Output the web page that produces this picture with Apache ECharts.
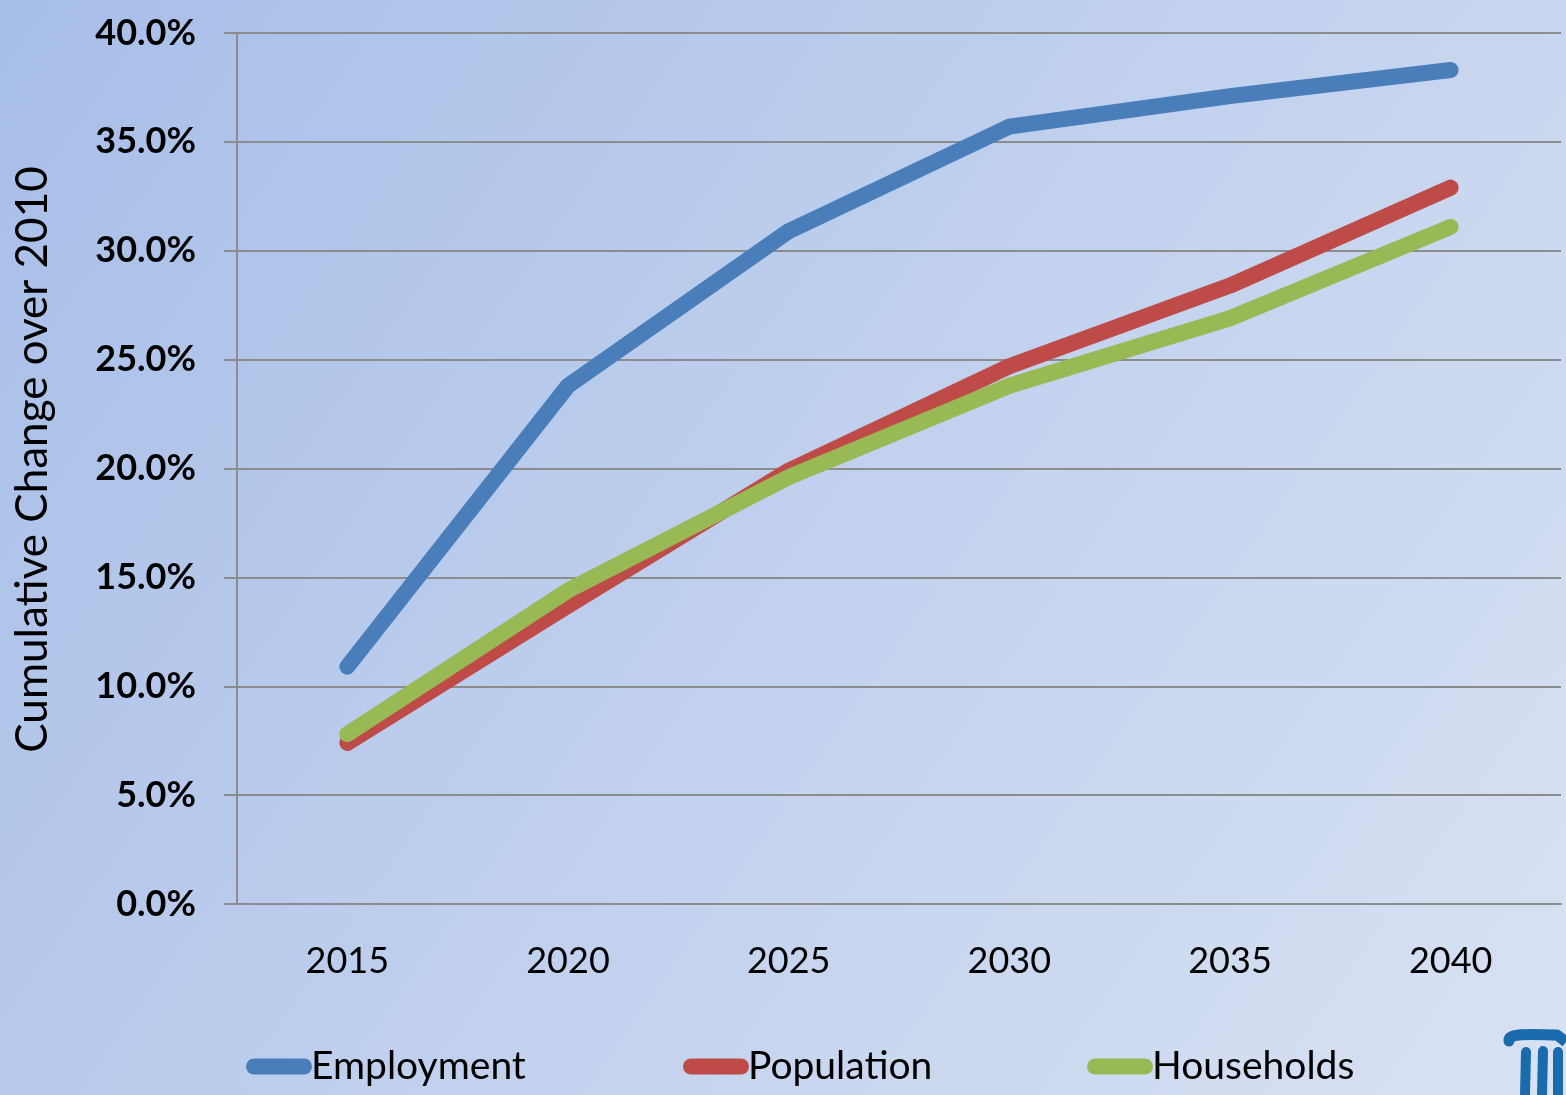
<!DOCTYPE html>
<html><head><meta charset="utf-8">
<script src="https://cdn.jsdelivr.net/npm/echarts@6/dist/echarts.min.js"></script>
<style>html,body{margin:0;padding:0}#c{width:1566px;height:1095px}</style>
</head><body><div id="c"></div>
<script>
const categories = ['2015','2020','2025','2030','2035','2040'];
const employment = [10.9, 23.8, 30.9, 35.7, 37.1, 38.3];
const population = [7.4, 13.7, 19.9, 24.7, 28.4, 32.9];
const households = [7.8, 14.4, 19.6, 23.8, 26.9, 31.1];
const yTicks = [0, 5, 10, 15, 20, 25, 30, 35, 40];

const FONT = 'Lato';
const colors = ['#4a7ebb', '#be4b48', '#98b954'];
const capsule = 'path://M8,0 L58,0 A8,8 0 0 1 58,16 L8,16 A8,8 0 0 1 8,0 Z';

const chart = echarts.init(document.getElementById('c'));
function legendFor(name, left) {
  return {
    data: [name], left: left, top: 1047, padding: 0, icon: capsule,
    itemWidth: 66, itemHeight: 16, itemGap: 0,
    textStyle: {fontFamily: FONT, fontSize: 39, color: '#000', padding: [0,0,0,-6]}
  };
}
chart.setOption({
  animation: false,
  backgroundColor: {type: 'linear', x: 0, y: 0, x2: 1, y2: 1,
    colorStops: [{offset: 0, color: '#a7bee8'}, {offset: 1, color: '#d9e2f3'}]},
  color: colors,
  grid: {left: 237, right: 5, top: 33, bottom: 191, containLabel: false},
  legend: [legendFor('Employment', 246), legendFor('Population', 683), legendFor('Households', 1087)],
  xAxis: {
    type: 'category', data: categories, boundaryGap: true,
    axisLine: {lineStyle: {color: '#8c8c8c', width: 2}},
    axisTick: {length: 12, lineStyle: {color: '#8c8c8c', width: 2}},
    axisLabel: {margin: 39, fontFamily: FONT, fontSize: 36, color: '#000'}
  },
  yAxis: {
    type: 'value', min: yTicks[0], max: yTicks[yTicks.length-1], interval: 5,
    name: 'Cumulative Change over 2010', nameLocation: 'middle', nameGap: 182,
    nameTextStyle: {fontFamily: FONT, fontSize: 44, color: '#000', padding: [0, 0, 0, 18]},
    axisLine: {show: true, lineStyle: {color: '#8c8c8c', width: 2}},
    axisTick: {show: true, length: 13, lineStyle: {color: '#8c8c8c', width: 2}},
    splitLine: {lineStyle: {color: '#8c8c8c', width: 2}},
    axisLabel: {margin: 41, fontFamily: FONT, fontSize: 36, fontWeight: 'bold', color: '#000',
      formatter: v => v.toFixed(1) + '%'}
  },
  series: [
    {name: 'Employment', type: 'line', data: employment},
    {name: 'Population', type: 'line', data: population},
    {name: 'Households', type: 'line', data: households}
  ].map(s => Object.assign(s, {symbol: 'none', lineStyle: {width: 16, cap: 'round', join: 'round'}})),
  graphic: [
    {type: 'bezierCurve', shape: {x1: 1509, y1: 1041, cpx1: 1508, cpy1: 1034, x2: 1552, y2: 1035, cpx2: 1522, cpy2: 1034},
      style: {stroke: '#1a6aae', lineWidth: 11, fill: null, lineCap: 'round'}},
    {type: 'polyline', shape: {points: [[1552, 1035], [1557, 1035], [1566, 1042]]}, style: {stroke: '#1a6aae', lineWidth: 11, lineJoin: 'round'}},
    {type: 'line', shape: {x1: 1526, y1: 1052, x2: 1525, y2: 1095}, style: {stroke: '#1a6aae', lineWidth: 10, lineCap: 'round'}},
    {type: 'line', shape: {x1: 1543, y1: 1051, x2: 1542, y2: 1095}, style: {stroke: '#1a6aae', lineWidth: 10, lineCap: 'round'}},
    {type: 'line', shape: {x1: 1558, y1: 1052, x2: 1558, y2: 1095}, style: {stroke: '#1a6aae', lineWidth: 10, lineCap: 'round'}}
  ]
});
</script></body></html>
